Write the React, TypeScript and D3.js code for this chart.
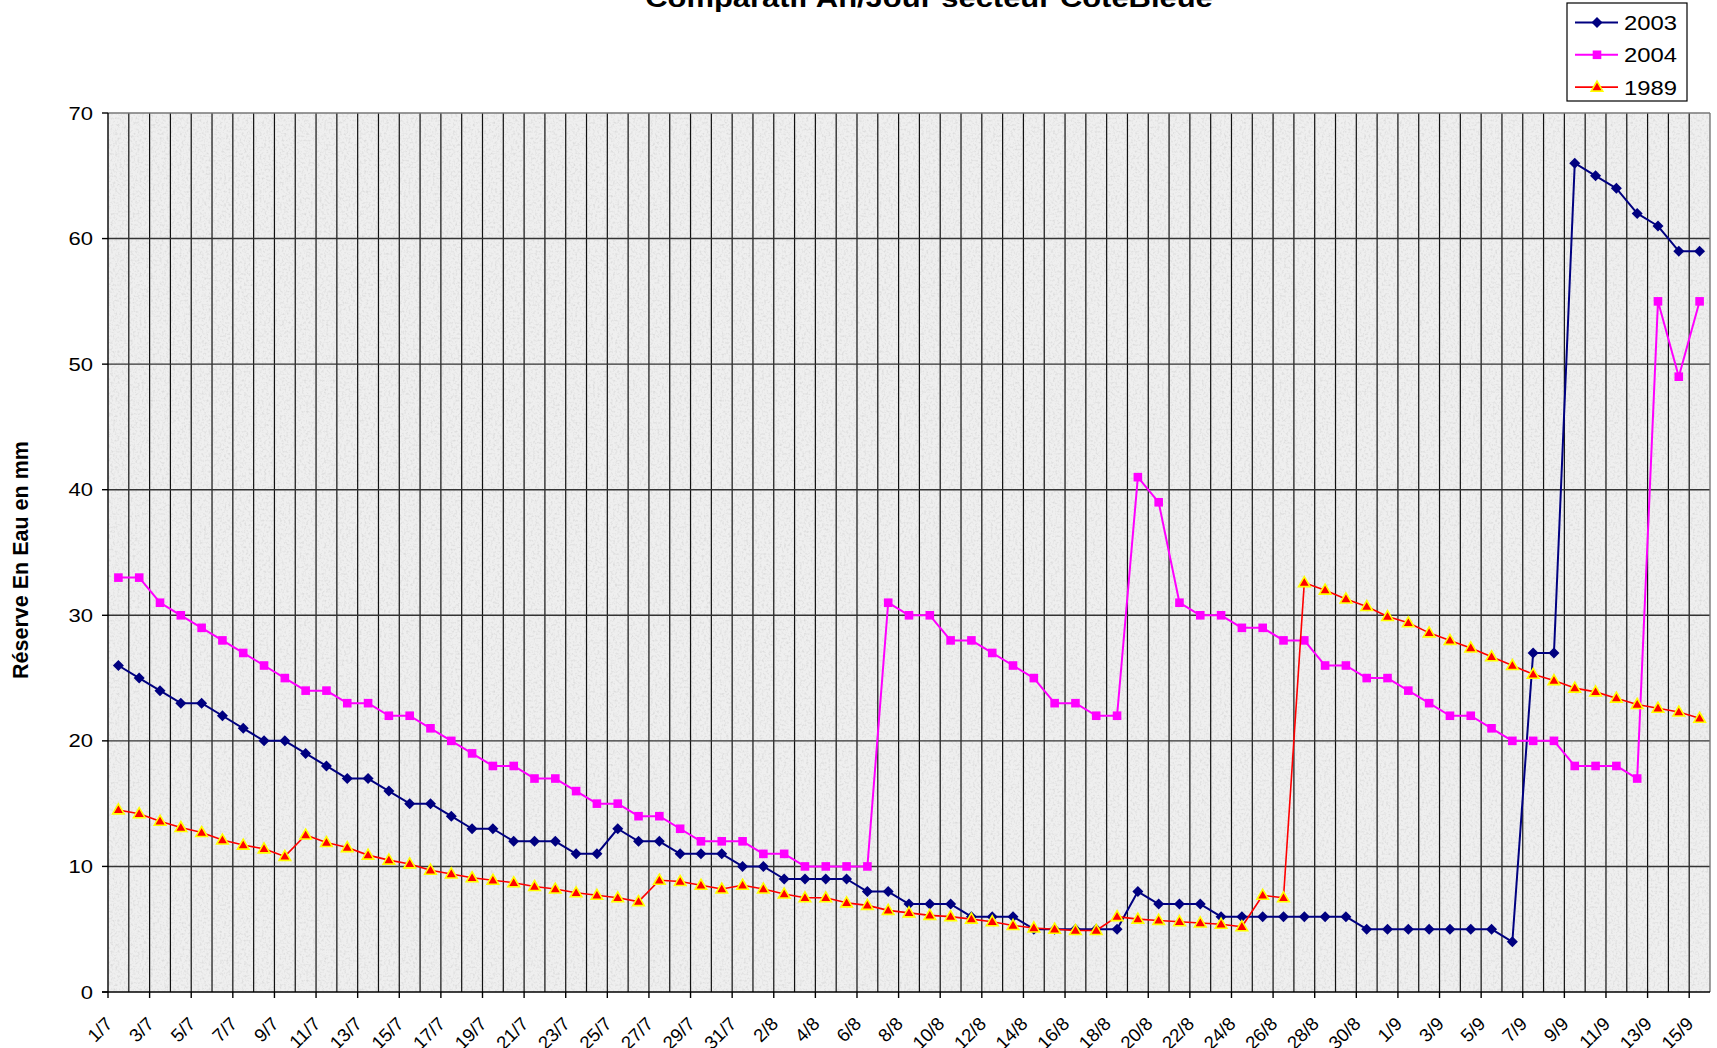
import { useEffect, useRef } from 'react';
import * as d3 from 'd3';

const days = [
  '1/7', '2/7', '3/7', '4/7', '5/7', '6/7', '7/7', '8/7', '9/7', '10/7', '11/7', '12/7', '13/7', '14/7', '15/7', '16/7',
  '17/7', '18/7', '19/7', '20/7', '21/7', '22/7', '23/7', '24/7', '25/7', '26/7', '27/7', '28/7', '29/7', '30/7', '31/7',
  '1/8', '2/8', '3/8', '4/8', '5/8', '6/8', '7/8', '8/8', '9/8', '10/8', '11/8', '12/8', '13/8', '14/8', '15/8', '16/8',
  '17/8', '18/8', '19/8', '20/8', '21/8', '22/8', '23/8', '24/8', '25/8', '26/8', '27/8', '28/8', '29/8', '30/8', '31/8',
  '1/9', '2/9', '3/9', '4/9', '5/9', '6/9', '7/9', '8/9', '9/9', '10/9', '11/9', '12/9', '13/9', '14/9', '15/9',
];

const y2003 = [
  26, 25, 24, 23, 23, 22, 21, 20, 20, 19, 18, 17, 17, 16, 15, 15, 14, 13, 13, 12, 12, 12, 11, 11, 13, 12, 12, 11, 11, 11, 10,
  10, 9, 9, 9, 9, 8, 8, 7, 7, 7, 6, 6, 6, 5, 5, 5, 5, 5, 8, 7, 7, 7, 6, 6, 6, 6, 6, 6, 6, 5, 5,
  5, 5, 5, 5, 5, 4, 27, 27, 66, 65, 64, 62, 61, 59, 59,
];

const y2004 = [
  33, 33, 31, 30, 29, 28, 27, 26, 25, 24, 24, 23, 23, 22, 22, 21, 20, 19, 18, 18, 17, 17, 16, 15, 15, 14, 14, 13, 12, 12, 12,
  11, 11, 10, 10, 10, 10, 31, 30, 30, 28, 28, 27, 26, 25, 23, 23, 22, 22, 41, 39, 31, 30, 30, 29, 29, 28, 28, 26, 26, 25, 25,
  24, 23, 22, 22, 21, 20, 20, 20, 18, 18, 18, 17, 55, 49, 55,
];

const y1989 = [
  14.5, 14.2, 13.6, 13.1, 12.7, 12.1, 11.7, 11.4, 10.8, 12.5, 11.9, 11.5, 10.9, 10.5, 10.2, 9.7, 9.4, 9.1, 8.9, 8.7, 8.4,
  8.2, 7.9, 7.7, 7.5, 7.2, 8.9, 8.8, 8.5, 8.2, 8.5, 8.2, 7.8, 7.5, 7.5, 7.1, 6.9, 6.5, 6.3, 6.1, 6.0, 5.8, 5.6, 5.3, 5.1,
  5.0, 4.9, 4.9, 6.0, 5.8, 5.7, 5.6, 5.5, 5.4, 5.2, 7.7, 7.5, 32.6, 32.0, 31.3, 30.7, 29.9, 29.4, 28.6, 28.0, 27.4, 26.7,
  26.0, 25.3, 24.8, 24.2, 23.9, 23.4, 22.9, 22.6, 22.3, 21.8,
];

const yTicks = [0, 10, 20, 30, 40, 50, 60, 70];

type Marker = 'diamond' | 'square' | 'triangle';
const series: { name: string; values: number[]; color: string; marker: Marker; width: number }[] = [
  { name: '2003', values: y2003, color: '#000080', marker: 'diamond', width: 2 },
  { name: '2004', values: y2004, color: '#ff00ff', marker: 'square', width: 2 },
  { name: '1989', values: y1989, color: '#ff0000', marker: 'triangle', width: 1.6 },
];

const FONT = 'Liberation Sans, Arial, sans-serif';
const STRETCH = 1.19;

function drawMarker(g: d3.Selection<SVGGElement, unknown, null, undefined>, kind: Marker, x: number, y: number, color: string) {
  if (kind === 'diamond') {
    g.append('path').attr('d', `M${x},${y - 5.5}L${x + 5.5},${y}L${x},${y + 5.5}L${x - 5.5},${y}Z`).attr('fill', color);
  } else if (kind === 'square') {
    g.append('rect').attr('x', x - 4.3).attr('y', y - 4.3).attr('width', 8.6).attr('height', 8.6).attr('fill', color);
  } else {
    g.append('path').attr('d', `M${x},${y - 6}L${x + 5.8},${y + 4}L${x - 5.8},${y + 4}Z`)
      .attr('fill', '#ff0000').attr('stroke', '#ffff00').attr('stroke-width', 1.6).attr('stroke-linejoin', 'miter');
  }
}

export default function App() {
  const ref = useRef<SVGSVGElement | null>(null);
  useEffect(() => {
    document.body.style.margin = '0';
    const svg = d3.select(ref.current!);
    svg.selectAll('*').remove();
    const W = 1717, H = 1048;
    const L = 108, R = 1710, T = 113, B = 992;
    svg.attr('viewBox', `0 0 ${W} ${H}`);

    svg.append('rect').attr('width', W).attr('height', H).attr('fill', '#ffffff');

    const x = d3.scaleBand<string>().domain(days).range([L, R]).padding(0);
    const bw = x.bandwidth();
    const cx = (d: string) => (x(d) ?? 0) + bw / 2;
    const y = d3.scaleLinear().domain([0, 70]).range([B, T]);

    // granite-like plot background
    const defs = svg.append('defs');
    const f = defs.append('filter').attr('id', 'grain').attr('filterUnits', 'userSpaceOnUse')
      .attr('x', L).attr('y', T).attr('width', R - L).attr('height', B - T);
    f.append('feTurbulence').attr('type', 'fractalNoise').attr('baseFrequency', 0.45).attr('numOctaves', 2).attr('seed', 3);
    f.append('feColorMatrix').attr('type', 'matrix')
      .attr('values', '0 0 0 0 0.55  0 0 0 0 0.55  0 0 0 0 0.55  1.1 0 0 0 -0.5');
    svg.append('rect').attr('x', L).attr('y', T).attr('width', R - L).attr('height', B - T).attr('fill', '#efefef');
    svg.append('rect').attr('x', L).attr('y', T).attr('width', R - L).attr('height', B - T)
      .attr('fill', '#fff').attr('filter', 'url(#grain)');

    // vertical gridlines at every category boundary
    const grid = svg.append('g');
    d3.range(1, days.length).forEach((k) => {
      grid.append('line').attr('x1', L + k * bw).attr('x2', L + k * bw).attr('y1', T).attr('y2', B)
        .attr('stroke', '#111').attr('stroke-width', 1.2);
    });
    yTicks.filter((t) => t > 0).forEach((t) => {
      grid.append('line').attr('x1', L).attr('x2', R).attr('y1', y(t)).attr('y2', y(t))
        .attr('stroke', t === 70 ? '#777' : '#333').attr('stroke-width', 1.4);
    });
    grid.append('line').attr('x1', R).attr('x2', R).attr('y1', T).attr('y2', B).attr('stroke', '#777').attr('stroke-width', 1.4);

    // axes
    svg.append('line').attr('x1', L).attr('x2', L).attr('y1', T).attr('y2', B).attr('stroke', '#000').attr('stroke-width', 1.4);
    svg.append('line').attr('x1', L - 6).attr('x2', R).attr('y1', B).attr('y2', B).attr('stroke', '#000').attr('stroke-width', 1.6);
    yTicks.forEach((t) => {
      svg.append('line').attr('x1', L - 6).attr('x2', L).attr('y1', y(t)).attr('y2', y(t)).attr('stroke', '#000').attr('stroke-width', 1.4);
      svg.append('text').attr('transform', `translate(93,${y(t) + 6.5}) scale(${STRETCH},1)`)
        .attr('text-anchor', 'end').attr('font-family', FONT).attr('font-size', 18.5).attr('fill', '#000').text(String(t));
    });
    days.forEach((d, i) => {
      if (i % 2 !== 0) return;
      const bx = x(d) ?? 0;
      svg.append('line').attr('x1', bx).attr('x2', bx).attr('y1', B).attr('y2', B + 6).attr('stroke', '#000').attr('stroke-width', 1.4);
      svg.append('text').attr('transform', `translate(${cx(d) - 5},${B + 33}) rotate(-45)`)
        .attr('text-anchor', 'end').attr('font-family', FONT).attr('font-size', 18.5).attr('fill', '#000').text(d);
    });

    // series
    series.forEach((s) => {
      const line = d3.line<number>().x((_, i) => cx(days[i])).y((v) => y(v));
      svg.append('path').datum(s.values).attr('d', line).attr('fill', 'none')
        .attr('stroke', s.color).attr('stroke-width', s.width).attr('stroke-linejoin', 'round');
      const mg = svg.append('g');
      s.values.forEach((v, i) => drawMarker(mg, s.marker, cx(days[i]), y(v), s.color));
    });

    // titles
    svg.append('text').attr('transform', `translate(929,7) scale(${STRETCH},1)`).attr('text-anchor', 'middle')
      .attr('font-family', FONT).attr('font-weight', 'bold').attr('font-size', 26).attr('fill', '#000')
      .text('Comparatif An/Jour  secteur CoteBleue');
    svg.append('text').attr('transform', `translate(28,560) rotate(-90)`).attr('text-anchor', 'middle')
      .attr('font-family', FONT).attr('font-weight', 'bold').attr('font-size', 21.5).attr('fill', '#000')
      .text('Réserve En Eau en mm');

    // legend
    const lg = svg.append('g');
    lg.append('rect').attr('x', 1567).attr('y', 3).attr('width', 120).attr('height', 98)
      .attr('fill', '#fff').attr('stroke', '#000').attr('stroke-width', 1.2);
    series.forEach((s, i) => {
      const ry = 22.5 + i * 32.3;
      lg.append('line').attr('x1', 1575).attr('x2', 1618).attr('y1', ry).attr('y2', ry)
        .attr('stroke', s.color).attr('stroke-width', s.width);
      drawMarker(lg, s.marker, 1597, ry, s.color);
      lg.append('text').attr('transform', `translate(1624,${ry + 7.5}) scale(${STRETCH},1)`)
        .attr('font-family', FONT).attr('font-size', 20).attr('fill', '#000').text(s.name);
    });
  }, []);
  return <svg ref={ref} width={1717} height={1048} style={{ display: 'block', position: 'absolute', left: 0, top: 0 }} />;
}
